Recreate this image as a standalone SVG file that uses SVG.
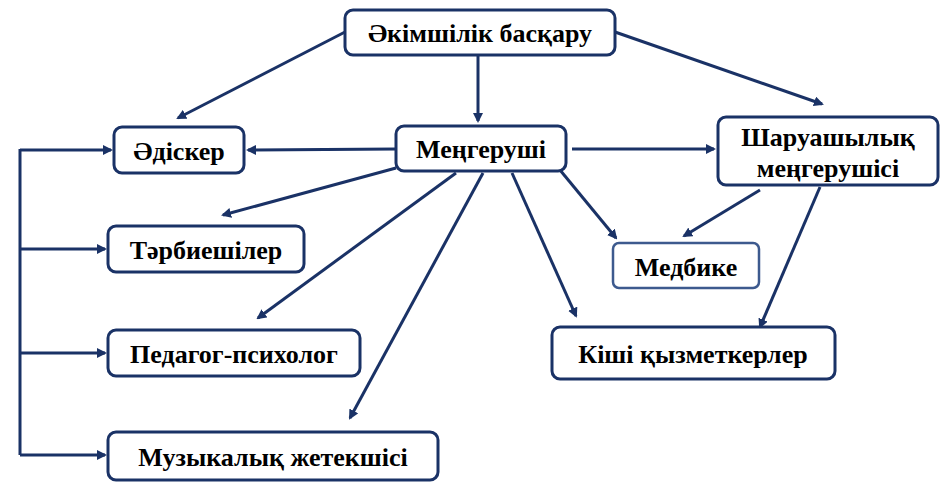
<svg xmlns="http://www.w3.org/2000/svg" width="950" height="492" viewBox="0 0 950 492">
<style>
.b{fill:#fff;stroke:#1a3266;stroke-width:3}
.m{fill:#fff;stroke:#3d5a8e;stroke-width:2.5}
.t{font-family:"Liberation Serif",serif;font-weight:bold;font-size:26px;fill:#000;text-anchor:middle}
.c line,.c path{stroke:#1a3266;stroke-width:3;fill:none}
</style>
<defs><marker id="a" markerWidth="10" markerHeight="10" refX="8" refY="5" orient="auto" markerUnits="userSpaceOnUse" viewBox="0 0 10 10"><path d="M0,0L10,5L0,10z" fill="#1a3266"/></marker></defs>
<rect width="950" height="492" fill="#fff"/>
<g class="c">
<line x1="345" y1="32" x2="178" y2="118" marker-end="url(#a)"/>
<line x1="478" y1="55" x2="478" y2="121" marker-end="url(#a)"/>
<line x1="615" y1="32" x2="822" y2="104" marker-end="url(#a)"/>
<line x1="396" y1="149" x2="248" y2="150" marker-end="url(#a)"/>
<line x1="572" y1="149" x2="714" y2="149" marker-end="url(#a)"/>
<line x1="396" y1="168" x2="223" y2="215" marker-end="url(#a)"/>
<line x1="456" y1="173" x2="258" y2="318" marker-end="url(#a)"/>
<line x1="483" y1="173" x2="350" y2="418" marker-end="url(#a)"/>
<line x1="512" y1="173" x2="576" y2="316" marker-end="url(#a)"/>
<line x1="560" y1="170" x2="616" y2="238" marker-end="url(#a)"/>
<line x1="760" y1="190" x2="684" y2="236" marker-end="url(#a)"/>
<line x1="820" y1="187" x2="760" y2="327" marker-end="url(#a)"/>
<path d="M20,455V149"/>
<line x1="20" y1="150" x2="111" y2="150" marker-end="url(#a)"/>
<line x1="20" y1="249" x2="105" y2="249" marker-end="url(#a)"/>
<line x1="20" y1="353" x2="105" y2="353" marker-end="url(#a)"/>
<line x1="20" y1="455" x2="105" y2="455" marker-end="url(#a)"/>
</g>
<g id="n1"><rect class="b" x="345" y="10" width="270" height="45" rx="8"/><text class="t" x="480" y="42">Әкімшілік басқару</text></g>
<g id="n2"><rect class="b" x="114" y="127" width="130" height="46" rx="8"/><text class="t" x="179" y="160">Әдіскер</text></g>
<g id="n3"><rect class="b" x="396" y="126" width="170" height="45" rx="8"/><text class="t" x="481" y="158">Меңгеруші</text></g>
<g id="n4"><rect class="b" x="718" y="117" width="220" height="68" rx="8"/><text class="t" x="828" y="146">Шаруашылық</text><text class="t" x="828" y="177">меңгерушісі</text></g>
<g id="n5"><rect class="b" x="108" y="226" width="196" height="46" rx="8"/><text class="t" x="206" y="259">Тәрбиешілер</text></g>
<g id="n6"><rect class="m" x="613" y="243" width="146" height="45" rx="6"/><text class="t" x="686" y="276">Медбике</text></g>
<g id="n7"><rect class="b" x="108" y="330" width="252" height="46" rx="8"/><text class="t" x="234" y="363">Педагог-психолог</text></g>
<g id="n8"><rect class="b" x="552" y="327" width="283" height="52" rx="8"/><text class="t" x="693" y="363">Кіші қызметкерлер</text></g>
<g id="n9"><rect class="b" x="108" y="432" width="330" height="48" rx="8"/><text class="t" x="273" y="466">Музыкалық жетекшісі</text></g>
</svg>
